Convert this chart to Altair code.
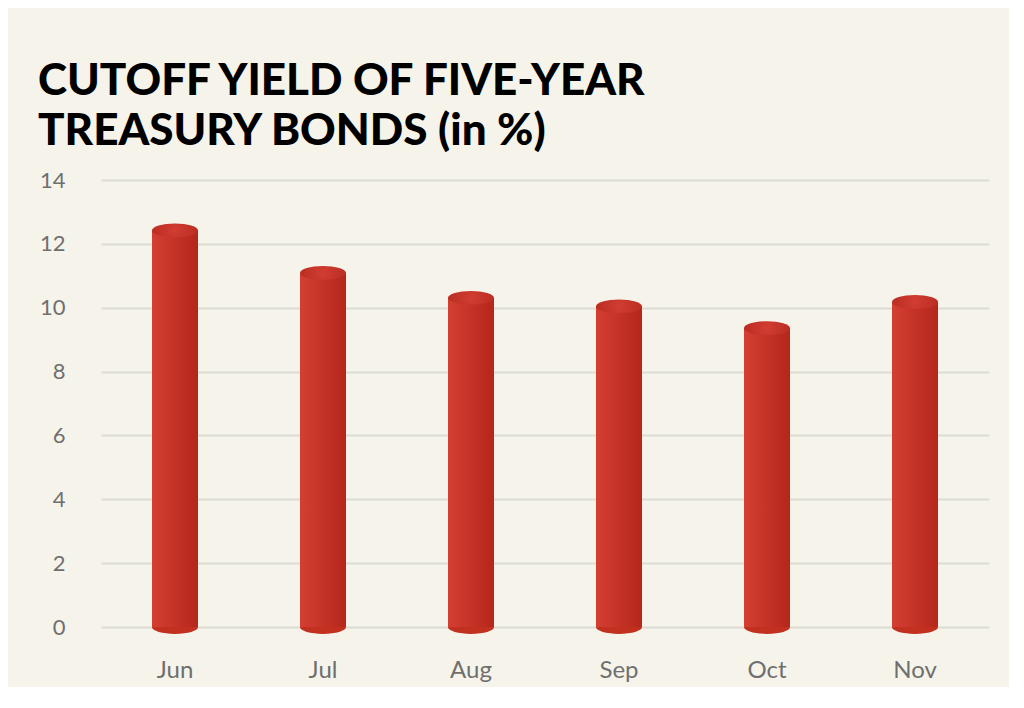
import altair as alt
import pandas as pd

months = ["Jun", "Jul", "Aug", "Sep", "Oct", "Nov"]
yields = [12.42, 11.09, 10.31, 10.04, 9.36, 10.18]
y_ticks = [0, 2, 4, 6, 8, 10, 12, 14]

df = pd.DataFrame({"month": months, "value": yields})

BG = "#f6f4ea"
BAR_W = 46
ELLIPSE = "M-1,0 A1,0.3 0 1,0 1,0 A1,0.3 0 1,0 -1,0 Z"

x_enc = alt.X("month:N", sort=months, title=None,
              scale=alt.Scale(paddingInner=0, paddingOuter=0),
              axis=alt.Axis(labelAngle=0, ticks=False, domain=False, grid=False,
                            labelFont="Lato", labelFontSize=24, labelColor="#6f6f6f",
                            labelPadding=31))
y_scale = alt.Scale(domain=[0, 14], nice=False)
y_axis = alt.Axis(values=y_ticks, ticks=False, domain=False, grid=True,
                  gridColor="#dcdbd4", gridWidth=2,
                  labelFont="Lato", labelFontSize=22, labelColor="#6f6f6f",
                  labelPadding=36, title=None)

bar_grad = alt.LinearGradient(
    gradient="linear",
    stops=[alt.GradientStop(offset=0, color="#d43f32"),
           alt.GradientStop(offset=1, color="#b5261b")],
    x1=0, x2=1, y1=0, y2=0)

top_grad = alt.RadialGradient(
    gradient="radial",
    stops=[alt.GradientStop(offset=0, color="#d23d31"),
           alt.GradientStop(offset=1, color="#b52a20")],
    x1=0.5, y1=0.5, r1=0, x2=0.5, y2=0.5, r2=0.6)

base = alt.Chart(df)

bottom = base.mark_point(shape=ELLIPSE, filled=True, size=BAR_W * BAR_W,
                         opacity=1, fill="#c2301f", strokeWidth=0).encode(
    x=x_enc,
    y=alt.datum(0, scale=y_scale, axis=y_axis),
)

bars = base.mark_bar(size=BAR_W, fill=bar_grad).encode(
    x=x_enc,
    y=alt.Y("value:Q", scale=y_scale, axis=y_axis),
)

tops = base.mark_point(shape=ELLIPSE, filled=True, size=BAR_W * BAR_W,
                       opacity=1, fill=top_grad, strokeWidth=0).encode(
    x=x_enc,
    y=alt.Y("value:Q", scale=y_scale, axis=y_axis),
)

chart = alt.layer(bottom, bars, tops).properties(
    width=888,
    height=447,
    title=alt.TitleParams(
        text=["CUTOFF YIELD OF FIVE-YEAR", "TREASURY BONDS (in %)"],
        anchor="start", frame="group", dx=-63,
        font="Lato", fontWeight=900, fontSize=44, color="#000000",
        lineHeight=50, offset=15),
    background=BG,
    padding={"left": 93, "top": 172, "right": 20, "bottom": 60},
    autosize=alt.AutoSizeParams(type="none"),
).configure_view(stroke=None)

chart.save("out.html", embed_options={"renderer": "svg", "actions": False})
